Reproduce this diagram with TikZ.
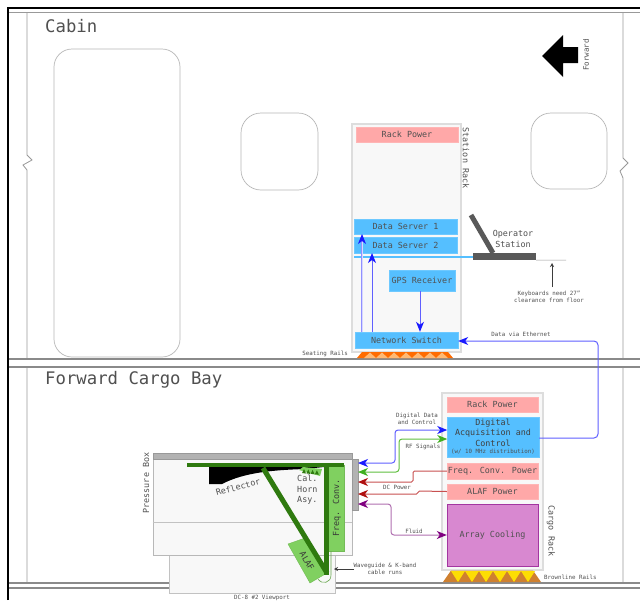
\documentclass[tikz,border=0pt]{standalone}
\usepackage{fontspec}
\setmainfont{DejaVu Sans Mono}
\usetikzlibrary{arrows.meta,calc}
\definecolor{tx}{HTML}{505050}
\definecolor{ln}{HTML}{999999}
\definecolor{rackf}{HTML}{F8F8F8}
\definecolor{rackd}{HTML}{DDDDDD}
\definecolor{pinkb}{HTML}{FFA8A8}
\definecolor{blueb}{HTML}{55BFFF}
\definecolor{purpb}{HTML}{D888D0}
\definecolor{dkgreen}{HTML}{2F7A0F}
\definecolor{ltgreen}{HTML}{80D060}
\definecolor{hb}{HTML}{1A1AFF}
\definecolor{lb}{HTML}{6060FF}
\definecolor{hg}{HTML}{40B020}
\definecolor{lg}{HTML}{60C040}
\definecolor{hr}{HTML}{B01010}
\definecolor{lr}{HTML}{C85050}
\definecolor{hp}{HTML}{800080}
\definecolor{lp}{HTML}{B070B0}
\newcommand\fsm{\fontsize{8.4}{10.5}\selectfont}
\newcommand\fss{\fontsize{5.8}{7.3}\selectfont}
\newcommand\fsl{\fontsize{17.3}{20}\selectfont}
\tikzset{
  txt/.style={inner sep=0pt,text=tx,font=\fsm,align=center},
  small/.style={inner sep=0pt,text=tx,font=\fss,align=center},
  big/.style={inner sep=0pt,text=tx,font=\fsl,anchor=west},
  rack/.style={draw=rackd,fill=rackf,line width=1.5pt,inner sep=0pt},
  win/.style={draw=ln!70,line width=.7pt,fill=white,rounded corners=#1},
  rowb/.style 2 args={inner sep=0pt,minimum width=#1,minimum height=#2,text=tx,font=\fsm,align=center},
  pink/.style={fill=pinkb,draw=pinkb!85!white},
  sky/.style={fill=blueb,draw=blueb!85!white},
  hull/.style={draw=ln,line width=.8pt},
  rail/.style={draw=ln!90!black,line width=1.3pt},
  wireb/.style={line width=1pt,draw=lb,rounded corners=3pt,>={Stealth[length=10pt,width=8pt,inset=3pt,color=hb]}},
  wireg/.style={line width=1pt,draw=lg,rounded corners=3pt,>={Stealth[length=10pt,width=8pt,inset=3pt,color=hg]}},
  wirer/.style={line width=1pt,draw=lr,rounded corners=1.5pt,>={Stealth[length=10pt,width=8pt,inset=3pt,color=hr]}},
  wirep/.style={line width=1pt,draw=lp,rounded corners=3pt,>={Stealth[length=10pt,width=8pt,inset=3pt,color=hp]}},
  notearrow/.style={ln!40!black,line width=.5pt,-{Stealth[length=4pt,width=4pt]}},
}
\begin{document}
\begin{tikzpicture}[x=1pt,y=-1pt]
\useasboundingbox (0,0) rectangle (640,600);
\fill[white] (0,0) rectangle (640,600);
% hull
\draw[hull] (8,12) -- (640,12);
\draw[hull] (27,12) -- (27,155) -- (32,160) -- (23,165) -- (27,170) -- (27,583);
\draw[hull] (623,12) -- (623,158) -- (628,163) -- (620,171) -- (623,178) -- (623,583);
\fill[white] (8,359) rectangle (640,367);
\draw[rail] (8,359) -- (640,359) (8,367) -- (640,367);
\draw[rail] (8,583) -- (640,583) (8,588) -- (640,588);
\draw[black,line width=2pt] (8,600) -- (8,8) -- (640,8);
% windows
\draw[win=18pt] (54,49) rectangle (180,357);
\draw[win=20pt] (241,113) rectangle (318,190);
\draw[win=20pt] (531,113) rectangle (607,189);
\node[big] (cabin) at (45,26) {Cabin};
\node[big] (bay) at (45,380) {Forward Cargo Bay};
% forward arrow
\fill[black] (542,56) -- (563,35) -- (563,47) -- (578,47) -- (578,63) -- (563,63) -- (563,77) -- cycle;
\node[txt,rotate=90,font=\fontsize{7.5}{9}\selectfont] (fwd) at (586,55) {Forward};
% station rack
\node[rack,minimum width=109pt,minimum height=228pt] (srack) at (406.5,238) {};
\node[rowb={102pt}{15pt},pink] (srp) at (407,134.5) {Rack Power};
\node[rowb={103pt}{15pt},sky] (ds1) at (405.5,226.5) {Data Server 1};
\node[rowb={103pt}{16pt},sky] (ds2) at (405.5,245) {Data Server 2};
\node[rowb={66pt}{21pt},sky] (gps) at (422,280.5) {GPS Receiver};
\node[rowb={103pt}{16pt},sky] (ns) at (406.5,340) {Network Switch};
\node[txt,rotate=-90] (srl) at (466,158) {Station Rack};
% operator station
\draw[blueb,line width=2.5pt] (354,257) -- (473,257);
\node[inner sep=0pt,fill=black!65,minimum width=63pt,minimum height=7pt] (desk) at (504.5,256.5) {};
\draw[black!65,line width=5pt] (471,215) -- (493,253);
\draw[ln,line width=.5pt] (desk.south east) -- (566,260);
\coordinate (kbtip) at (552,263);
\node[txt] (op) at (513,239) {Operator\\Station};
\node[small] (kb) at (549,296.5) {Keyboards need 27"\\clearance from floor};
\draw[notearrow] (552,287) -- (kbtip);
% seating rails
\fill[orange!85!red] (357,358) -- (362,352) -- (448,352) -- (453,358) -- cycle;
\foreach \i in {0,...,6} \fill[orange!55!white] ({364+\i*12},358) -- ({358+\i*12+12},352.5) -- ({364+\i*12+12},358) -- cycle;
\node[small,anchor=east] (sr) at (348,354) {Seating Rails};
% station arrows
\draw[draw=lb!70!white,line width=2.2pt] (362,332) -- (362,238);
\draw[draw=lb!25!white,line width=.8pt] (362,332) -- (362,238);
\draw[wireb,->] (362,240) -- (362,234);
\draw[wireb,->] (372,0 |- ns.north) -- (372,253);
\draw[wireb,->] (420,0 |- gps.south) -- (420,0 |- ns.north);
\node[small] (dve) at (521,334) {Data via Ethernet};
% cargo rack
\node[rack,minimum width=101pt,minimum height=177pt] (crack) at (492.5,481.5) {};
\node[rowb={91pt}{15pt},pink] (crp) at (492.5,404.5) {Rack Power};
\node[rowb={91.5pt}{40pt},sky] (daq) at (493.2,437) {};
\node[txt,text=tx!80!black] (daqt) at (493,432.5) {Digital\\Acquisition and\\Control};
\node[small] (daqs) at (493,451.5) {(w/ 10 MHz distribution)};
\node[rowb={91pt}{16pt},pink] (fcp) at (492.5,471) {Freq. Conv. Power};
\node[rowb={91pt}{15pt},pink] (alp) at (492.5,491.5) {ALAF Power};
\node[rowb={91pt}{62pt},fill=purpb,draw=violet!60!purpb] (cool) at (492.5,535) {Array Cooling};
\node[txt,rotate=-90] (crl) at (551,531) {Cargo Rack};
% brownline rails
\fill[brown!75!orange] (443,582) -- (451,570.5) -- (533,570.5) -- (541,582) -- cycle;
\foreach \i in {0,...,5} \fill[yellow!80!orange] ({451+\i*14},571) -- ({465+\i*14},571) -- ({458+\i*14},582) -- cycle;
\node[small,anchor=west] (brl) at (544,577) {Brownline Rails};
% viewport + pressure box
\node[draw=ln!60,fill=rackf,line width=1pt,inner sep=0pt,minimum width=166pt,minimum height=38pt] (vp) at (252,574) {};
\node[draw=ln!70,fill=rackf,line width=.8pt,inner sep=0pt,minimum width=199pt,minimum height=96pt] (pb) at (252.5,507) {};
\draw[ln!60,line width=.7pt] (pb.west |- 0,522) -- (pb.east |- 0,522);
\node[fill=black!30,draw=black!40,line width=.5pt,inner sep=0pt,minimum width=199pt,minimum height=6pt] (pbt) at (252.5,456) {};
\node[fill=black!30,draw=black!40,line width=.5pt,inner sep=0pt,minimum width=6pt,minimum height=51pt] (side) at (355,484.5) {};
\node[txt,rotate=90] (pbl) at (146,483) {Pressure Box};
\node[small] (vpl) at (262,598) {DC-8 \#2 Viewport};
% reflector
\fill[black] (209,466) -- (209,484) -- (222,484) .. controls (245,472) and (275,470) .. (305,469) -- (324,467) -- (324,465) -- cycle;
\node[txt,rotate=15] (refl) at (238,487) {Reflector};
% freq conv
\node[inner sep=0pt,fill=ltgreen,draw=ltgreen!90!black,line width=.4pt,minimum width=20pt,minimum height=86pt] (fc) at (334,508) {};
\node[txt,rotate=90,text=tx!70!black] (fcl) at (337,508) {Freq. Conv.};
% ALAF
\fill[ltgreen,draw=ltgreen!90!black,line width=.4pt] (288,544) -- (305,538) -- (327,573) -- (310,583) -- cycle;
\node[txt,rotate=-60,text=tx!70!black] (alf) at (307,561) {ALAF};
% waveguide cable
\draw[ltgreen!80!black,line width=.6pt] (331,551) -- (331,575) .. controls (331,583) and (322,585) .. (318,579);
\draw[dkgreen,line width=5pt] (263,468) -- (327,573);
\fill[dkgreen] (324,467) rectangle (329,575);
\fill[dkgreen] (187,463) rectangle (344,467);
% horn
\fill[ltgreen] (299,470) -- (303,467) -- (322,469) -- (320,476) -- cycle;
\foreach \i in {0,1,2,3} \fill[dkgreen] ({302+\i*4.3},{473+\i*.4}) -- ({304+\i*4.3},{469+\i*.4}) -- ({306+\i*4.3},{473.5+\i*.4}) -- cycle;
\node[txt,align=left,anchor=north west] (horn) at (297,475) {Cal.\\Horn\\Asy.};
% waveguide note
\node[small] (wg) at (385,569) {Waveguide \& K-band\\cable runs};
\draw[notearrow] (354,569) -- (334,569);
% connectors
\draw[wireb,<->] (358,463) -- (395,463) -- (395,430) -- (daq.west |- 0,430);
\draw[wireg,<->] (358,472) -- (399,472) -- (399,439) -- (daq.west |- 0,439);
\draw[wirer,->] (fcp.west) -- (413,471) -- (413,482) -- (358,482);
\draw[wirer,->] (alp.west) -- (418,491) -- (418,494) -- (358,494);
\draw[wirep,<->] (358,504) -- (391,504) -- (391,535) -- (cool.west);
\draw[wireb,rounded corners=4pt,->] (daq.east |- 0,438) -- (598,438) -- (598,341) -- (ns.east |- 0,341);
\node[small] (l1) at (417,419) {Digital Data\\and Control};
\node[small] (l2) at (423,447) {RF Signals};
\node[small] (l3) at (397,487) {DC Power};
\node[small] (l4) at (414,531) {Fluid};
\end{tikzpicture}
\end{document}
